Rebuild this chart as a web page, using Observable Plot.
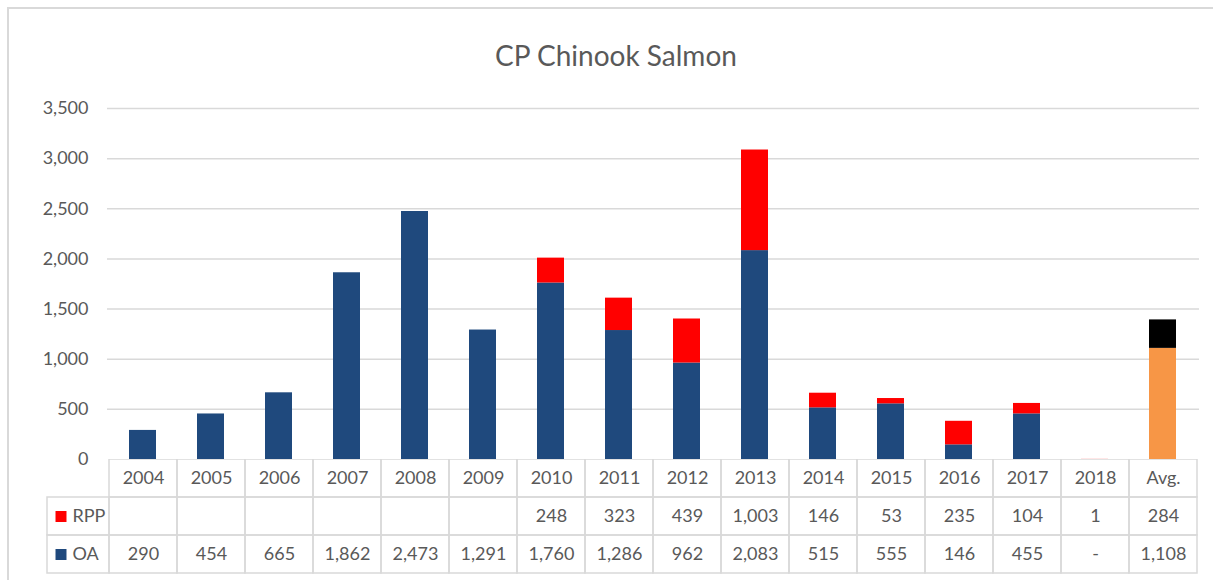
<!DOCTYPE html>
<html>
<head>
<meta charset="utf-8">
<script src="https://cdn.jsdelivr.net/npm/d3@7"></script>
<script src="https://cdn.jsdelivr.net/npm/@observablehq/plot@0.6"></script>
<style>
  html, body { margin: 0; padding: 0; background: #fff; overflow: hidden; }
  #wrap { position: relative; width: 1213px; height: 580px; overflow: hidden; font-family: Lato, "Noto Sans", sans-serif; }
  #frame { position: absolute; left: 7px; top: 7px; width: 1230px; height: 600px; border: 2px solid #d9d9d9; box-sizing: border-box; }
  #title { position: absolute; left: 0; width: 1232px; top: 38px; text-align: center; font-size: 28px; color: #595959; }
  #chart { position: absolute; left: 0; top: 0; }
  #table { position: absolute; left: 0; top: 459px; }
</style>
</head>
<body>
<div id="wrap">
  <div id="frame"></div>
  <div id="title">CP Chinook Salmon</div>
  <div id="chart"></div>
  <div id="table"></div>
</div>
<script>
const categories = ["2004","2005","2006","2007","2008","2009","2010","2011","2012","2013","2014","2015","2016","2017","2018","Avg."];
const oaValues  = [290, 454, 665, 1862, 2473, 1291, 1760, 1286, 962, 2083, 515, 555, 146, 455, 0, 1108];
const rppValues = [null, null, null, null, null, null, 248, 323, 439, 1003, 146, 53, 235, 104, 1, 284];
const seriesNames = ["RPP", "OA"];
const yTicks = [0, 500, 1000, 1500, 2000, 2500, 3000, 3500];

const colors = {OA: "#1F497D", RPP: "#FF0000", avgOA: "#F79646", avgRPP: "#000000"};
const textColor = "#595959";
const gridColor = "#d9d9d9";
const font = "Lato, 'Noto Sans', sans-serif";
const fmt = d3.format(",");

// long-form data for stacking (OA at bottom, RPP on top)
const bars = [];
categories.forEach((c, i) => {
  const avg = c === "Avg.";
  bars.push({cat: c, series: "OA", value: oaValues[i] || 0, color: avg ? colors.avgOA : colors.OA});
  bars.push({cat: c, series: "RPP", value: rppValues[i] || 0, color: avg ? colors.avgRPP : colors.RPP});
});

const W = 1213, left = 107, right = 1199;

const chart = Plot.plot({
  width: W,
  height: 480,
  marginTop: 108,
  marginBottom: 21,
  marginLeft: left,
  marginRight: W - right,
  style: {fontFamily: font, fontSize: "18px", color: textColor, background: "transparent"},
  x: {domain: categories, paddingInner: 0.6, paddingOuter: 0.3, axis: null, label: null},
  y: {domain: [0, 3500], axis: null, label: null},
  color: {type: "identity"},
  marks: [
    Plot.ruleY(yTicks.filter(d => d > 0), {stroke: gridColor, strokeWidth: 1.5}),
    Plot.barY(bars, Plot.stackY({x: "cat", y: "value", fill: "color", order: null})),
    Plot.axisY({ticks: yTicks, tickFormat: fmt, tickSize: 0, tickPadding: 19, fontSize: 18, fill: textColor, label: null})
  ]
});
document.getElementById("chart").appendChild(chart);

// data table under the chart
const labelCol = "";
const tableCols = [labelCol, ...categories];
const rows = ["year", "RPP", "OA"];
const step = (right - left) / categories.length;
const cells = [];
categories.forEach((c, i) => {
  cells.push({col: c, row: "year", text: c});
  cells.push({col: c, row: "RPP", text: rppValues[i] == null ? "" : fmt(rppValues[i])});
  cells.push({col: c, row: "OA", text: oaValues[i] ? fmt(oaValues[i]) : "-"});
});
const labelCells = seriesNames.map(s => ({col: labelCol, row: s, text: s, color: colors[s]}));

const table = Plot.plot({
  width: W,
  height: 115,
  marginTop: 0,
  marginBottom: 1,
  marginLeft: left - step,
  marginRight: W - right,
  style: {fontFamily: font, fontSize: "18px", background: "transparent"},
  x: {domain: tableCols, padding: 0, axis: null, label: null},
  y: {domain: rows, padding: 0, axis: null, label: null},
  color: {type: "identity"},
  marks: [
    Plot.cell(cells, {x: "col", y: "row", fill: "none", stroke: gridColor, strokeWidth: 1.5, inset: 0}),
    Plot.cell(labelCells, {x: "col", y: "row", fill: "none", stroke: gridColor, strokeWidth: 1.5, insetLeft: 6}),
    Plot.text(cells, {x: "col", y: "row", text: "text", fill: textColor, fontSize: 18}),
    Plot.dot(labelCells, {x: "col", y: "row", symbol: "square", r: 6.2, fill: "color", stroke: null, dx: -14.5}),
    Plot.text(labelCells, {x: "col", y: "row", text: "text", fill: textColor, fontSize: 18, textAnchor: "start", dx: -3})
  ]
});
document.getElementById("table").appendChild(table);
</script>
</body>
</html>
